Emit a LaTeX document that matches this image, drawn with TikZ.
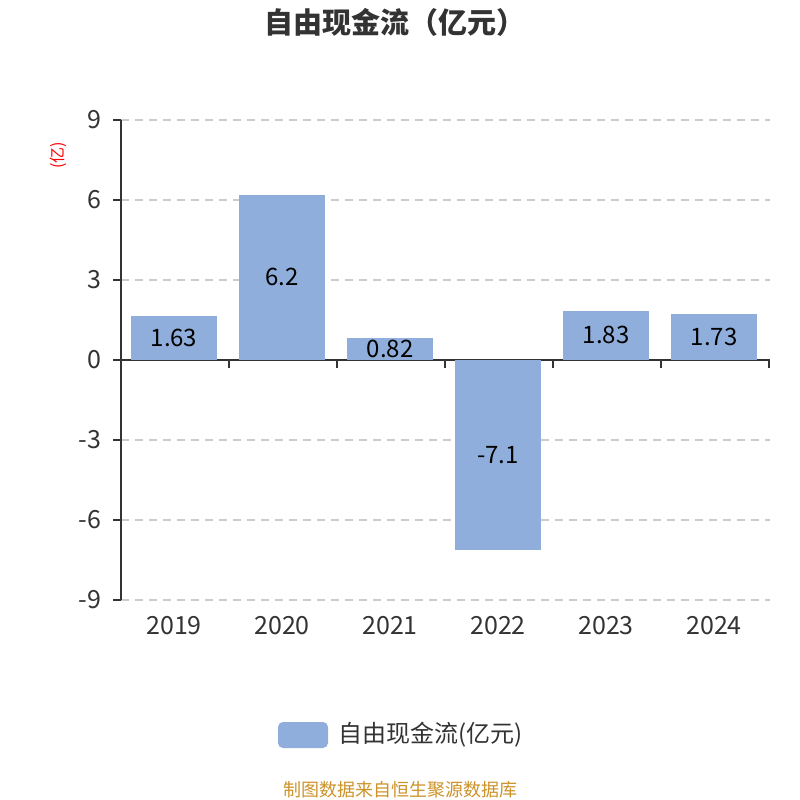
\documentclass[tikz,border=0pt]{standalone}
\usepackage{fontspec}
\setmainfont{Noto Sans CJK SC}
\usepackage{tikz}
\usetikzlibrary{
  positioning,
  backgrounds
}
\definecolor{barblue}{RGB}{143,174,219}
\definecolor{axisgray}{RGB}{51,51,51}
\definecolor{gridgray}{RGB}{204,204,204}
\definecolor{srcgold}{RGB}{204,146,40}

\begin{document}
\begin{tikzpicture}[
      x=1pt,y=-1pt,
      bar/.style={
         rectangle,
         inner sep=0pt,
         fill=barblue,
         minimum width=86pt
      },
      uppos/.style={bar,anchor=south},
      downpos/.style={bar,anchor=north},
      value/.style={
         font=\fontsize{24}{27}\selectfont,
         text=black
      },
      ticklabel/.style={
         anchor=east,
         font=\fontsize{25}{29}\selectfont,
         text=axisgray
      },
      yearlabel/.style={
         font=\fontsize{25}{29}\selectfont,
         text=axisgray
      },
      gridline/.style={gridgray,line width=1.5pt,dash pattern=on 8pt off 6pt},
      axisline/.style={axisgray,line width=1.5pt},
      point/.style={coordinate}
    ]
    \useasboundingbox (0,0) rectangle (800,800);
    % title
    \node (title) at (395,22) [font=\fontsize{29}{33}\selectfont\bfseries,text=axisgray] {自由现金流（亿元）};
    % unit
    \node (unit) at (58,155) [rotate=90,font=\fontsize{16}{19}\selectfont,text=red] {(亿)};
    % grid and y axis
    \node (y9) at (105,120) [ticklabel] {9};
    \node (y6) at (105,200) [ticklabel] {6};
    \node (y3) at (105,280) [ticklabel] {3};
    \node (y0) at (105,360) [ticklabel] {0};
    \node (ym3) at (105,440) [ticklabel] {-3};
    \node (ym6) at (105,520) [ticklabel] {-6};
    \node (ym9) at (105,600) [ticklabel] {-9};
    \draw[gridline] (121,120) -- (770,120);
    \draw[gridline] (121,200) -- (770,200);
    \draw[gridline] (121,280) -- (770,280);
    \draw[gridline] (121,440) -- (770,440);
    \draw[gridline] (121,520) -- (770,520);
    \draw[gridline] (121,600) -- (770,600);
    \node (ytop) at (121,120) [point] {};
    \node (ybot) at (121,600) [point] {};
    \draw[axisline] (ytop) -- (ybot);
    \draw[axisline] (113,120) -- (121,120);
    \draw[axisline] (113,200) -- (121,200);
    \draw[axisline] (113,280) -- (121,280);
    \draw[axisline] (113,360) -- (121,360);
    \draw[axisline] (113,440) -- (121,440);
    \draw[axisline] (113,520) -- (121,520);
    \draw[axisline] (113,600) -- (121,600);
    % x axis
    \node (xleft) at (121,360) [point] {};
    \node (xright) at (770,360) [point] {};
    \draw[axisline] (xleft) -- (xright);
    \draw[axisline] (121,360) -- (121,368);
    \draw[axisline] (229,360) -- (229,368);
    \draw[axisline] (337,360) -- (337,368);
    \draw[axisline] (445,360) -- (445,368);
    \draw[axisline] (553,360) -- (553,368);
    \draw[axisline] (661,360) -- (661,368);
    \draw[axisline] (769,360) -- (769,368);
    % bars
    \node (b2019) at (174,360) [uppos,minimum height=43.5pt] {};
    \node (b2020) at (282,360) [uppos,minimum height=165.3pt] {};
    \node (b2021) at (390,360) [uppos,minimum height=21.9pt] {};
    \node (b2022) at (498,360) [downpos,minimum height=189.3pt] {};
    \node (b2023) at (606,360) [uppos,minimum height=48.8pt] {};
    \node (b2024) at (714,360) [uppos,minimum height=46.1pt] {};
    \node (v2019) at (b2019.center) [value] {1.63};
    \node (v2020) at (b2020.center) [value] {6.2};
    \node (v2021) at (b2021.center) [value] {0.82};
    \node (v2022) at (b2022.center) [value] {-7.1};
    \node (v2023) at (b2023.center) [value] {1.83};
    \node (v2024) at (b2024.center) [value] {1.73};
    % years
    \node (l2019) at (174,626) [yearlabel] {2019};
    \node (l2020) at (282,626) [yearlabel] {2020};
    \node (l2021) at (390,626) [yearlabel] {2021};
    \node (l2022) at (498,626) [yearlabel] {2022};
    \node (l2023) at (606,626) [yearlabel] {2023};
    \node (l2024) at (714,626) [yearlabel] {2024};
    % legend
    \node (key) at (303,735) [rectangle,rounded corners=5pt,fill=barblue,minimum width=50pt,minimum height=26pt,inner sep=0pt] {};
    \node (keytext) [right=10pt of key,inner sep=0pt,font=\fontsize{24}{28}\selectfont,text=axisgray] {自由现金流(亿元)};
    % source
    \node (source) at (400,790) [font=\fontsize{18}{21}\selectfont,text=srcgold] {制图数据来自恒生聚源数据库};
\end{tikzpicture}
\end{document}
